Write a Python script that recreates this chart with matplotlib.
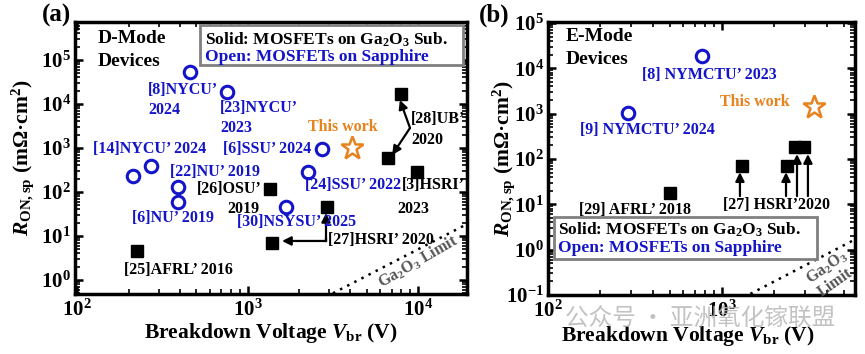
import numpy as np
import matplotlib.pyplot as plt
import matplotlib as mpl
from matplotlib.patches import Rectangle
from matplotlib.ticker import LogLocator, NullFormatter

mpl.rcParams['font.family'] = ['Liberation Serif', 'Noto Sans CJK SC']
mpl.rcParams['font.weight'] = 'bold'
mpl.rcParams['mathtext.fontset'] = 'custom'
mpl.rcParams['mathtext.rm'] = 'Liberation Serif:bold'
mpl.rcParams['mathtext.it'] = 'Liberation Serif:italic:bold'
mpl.rcParams['mathtext.bf'] = 'Liberation Serif:bold'

BLUE = '#1414c8'
ORANGE = '#e8821e'

# (a) D-mode devices
d_open_vbr = [460, 759, 213, 272, 391, 391, 2735, 2265, 1683]
d_open_ron = [5.3e4, 1.87e4, 231, 390, 130, 59, 950, 285, 46]
d_solid_vbr = [225, 1355, 1393, 2925, 7940, 6670, 9860]
d_solid_ron = [4.56, 117, 6.9, 46, 1.69e4, 593, 285]
d_this_vbr = [4100]
d_this_ron = [1000]

# (b) E-mode devices
e_open_vbr = [767, 288]
e_open_ron = [1.87e4, 1030]
e_solid_vbr = [502, 1303, 2365, 2630, 2958]
e_solid_ron = [17.7, 70, 70, 183, 183]
e_this_vbr = [3380]
e_this_ron = [1400]

# Ga2O3 unipolar limit (end points)
limit_vbr = [1000, 20000]
limit_ron = [0.05, 19.8]


def setup_axes(ax, xlim, ylim):
    ax.set_xscale('log')
    ax.set_yscale('log')
    ax.set_xlim(*xlim)
    ax.set_ylim(*ylim)
    for axis in (ax.xaxis, ax.yaxis):
        axis.set_major_locator(LogLocator(base=10, numticks=20))
        axis.set_minor_locator(LogLocator(base=10, subs=np.arange(2, 10), numticks=20))
        axis.set_minor_formatter(NullFormatter())
    ax.tick_params(which='both', direction='in', top=True, right=True, labelsize=15)
    ax.tick_params(which='major', length=6, width=1.8)
    ax.tick_params(which='minor', length=3.5, width=1.2)
    ax.tick_params(axis='x', pad=4)
    ax.tick_params(axis='y', pad=3)
    for spine in ax.spines.values():
        spine.set_linewidth(2.5)


def draw_points(ax, open_v, open_r, solid_v, solid_r, this_v, this_r):
    ax.plot(open_v, open_r, 'o', ms=9, mfc='none', mec=BLUE, mew=2.2, zorder=5)
    ax.plot(solid_v, solid_r, 's', ms=8, color='k', zorder=5)
    ax.plot(this_v, this_r, '*', ms=17, mfc='none', mec=ORANGE, mew=1.8, zorder=5)
    ax.plot(limit_vbr, limit_ron, color='k', lw=1.8, ls=(0, (1, 2.2)), zorder=3)


def legend_box(ax, x0, y0, x1, y1, ty):
    ax.add_patch(Rectangle((x0, y0), x1 - x0, y1 - y0, transform=ax.transAxes,
                           facecolor='white', edgecolor='#808080', lw=2, zorder=8))
    ax.text(x0 + 0.012, ty[0], r'Solid: MOSFETs on Ga$_2$O$_3$ Sub.', transform=ax.transAxes,
            fontsize=12.5, va='center', color='k', zorder=9)
    ax.text(x0 + 0.012, ty[1], 'Open: MOSFETs on Sapphire', transform=ax.transAxes,
            fontsize=12.5, va='center', color=BLUE, zorder=9)


def arrow(ax, start, tip):
    ax.annotate('', xy=tip, xytext=start,
                arrowprops=dict(arrowstyle='-|>', lw=1.6, color='k', mutation_scale=13,
                                shrinkA=0, shrinkB=0), zorder=6)


fig = plt.figure(figsize=(8.65, 3.54), dpi=100)
ax_a = fig.add_axes([0.0867, 0.1695, 0.4532, 0.7684])
ax_b = fig.add_axes([0.6335, 0.1667, 0.3549, 0.7712])

ylabel = r'$R_{\rm ON,sp}$ (mΩ·cm$^2$)'
xlabel = r'Breakdown Voltage $V_{\rm br}$ (V)'

# ---------- panel (a) ----------
ax = ax_a
setup_axes(ax, (97, 19400), (0.48, 7.3e5))
draw_points(ax, d_open_vbr, d_open_ron, d_solid_vbr, d_solid_ron, d_this_vbr, d_this_ron)
fs = 11.5
blue_labels = [
    (261, 2.08e4, '[8]NYCU’'), (261, 7300, '2024'),
    (690, 8110, '[23]NYCU’'), (690, 2850, '2023'),
    (124, 949, '[14]NYCU’ 2024'), (718, 949, '[6]SSU’ 2024'),
    (351, 285, '[22]NU’ 2019'), (2173, 144, '[24]SSU’ 2022'),
    (210, 25.7, '[6]NU’ 2019'), (867, 20.8, '[30]NSYSU’ 2025'),
]
for x, y, s in blue_labels:
    ax.text(x, y, s, color=BLUE, fontsize=fs, va='center', zorder=7)
black_labels = [
    (8050, 144, '[3]HSRI’'), (7530, 41, '2023'),
    (506, 117, '[26]OSU’'), (758, 41, '2019'),
    (2965, 8.1, '[27]HSRI’ 2020'), (189, 1.69, '[25]AFRL’ 2016'),
    (9100, 4560, '[28]UB’'), (9100, 1520, '2020'),
]
for x, y, s in black_labels:
    ax.text(x, y, s, color='k', fontsize=fs, va='center', zorder=7)
ax.text(2265, 3000, 'This work', color=ORANGE, fontsize=fs, va='center')
arrow(ax, (8980, 2850), (7830, 1.23e4))
arrow(ax, (8980, 2850), (7050, 693))
ax.plot([2885, 2885], [7.7, 8.6], color='k', lw=1.6)
arrow(ax, (2885, 7.7), (2885, 33.3))
arrow(ax, (2885, 7.7), (1592, 7.7))
ax.text(1.0e4, 2.57, r'Ga$_2$O$_3$ Limit', color='#555555', fontsize=11.5,
        rotation=30, ha='center', va='center')
ax.text(0.059, 0.941, 'D-Mode', transform=ax.transAxes, fontsize=14, va='center')
ax.text(0.059, 0.853, 'Devices', transform=ax.transAxes, fontsize=14, va='center')
legend_box(ax, 0.319, 0.842, 0.990, 0.989, (0.934, 0.871))
ax.text(-0.133, 0.5, ylabel, rotation=90, transform=ax.transAxes, fontsize=15.5,
        ha='center', va='center')
ax.text(0.5, -0.143, xlabel, transform=ax.transAxes, fontsize=15.5, ha='center', va='center')
fig.text(57 / 865, 1 - 15 / 354, '(a)', fontsize=18, ha='center', va='center')

# ---------- panel (b) ----------
ax = ax_b
setup_axes(ax, (100, 5810), (0.1, 1.05e5))
draw_points(ax, e_open_vbr, e_open_ron, e_solid_vbr, e_solid_ron, e_this_vbr, e_this_ron)
ax.text(347, 7110, '[8] NYMCTU’ 2023', color=BLUE, fontsize=fs, va='center')
ax.text(153, 434, '[9] NYMCTU’ 2024', color=BLUE, fontsize=fs, va='center')
ax.text(975, 1800, 'This work', color=ORANGE, fontsize=fs, va='center')
ax.text(151, 7.45, '[29] AFRL’ 2018', color='k', fontsize=fs, va='center')
ax.text(1014, 9.6, '[27] HSRI’2020', color='k', fontsize=fs, va='center')
for x, tip in [(1268, 51), (2333, 51), (2698, 128), (3118, 128)]:
    arrow(ax, (x, 15.2), (x, tip))
ax.text(4010, 0.41, r'Ga$_2$O$_3$', color='#555555', fontsize=11.5, rotation=35,
        ha='center', va='center')
ax.text(4460, 0.19, 'Limit', color='#555555', fontsize=11.5, rotation=35,
        ha='center', va='center')
ax.text(0.059, 0.945, 'E-Mode', transform=ax.transAxes, fontsize=14, va='center')
ax.text(0.059, 0.861, 'Devices', transform=ax.transAxes, fontsize=14, va='center')
legend_box(ax, 0.020, 0.132, 0.876, 0.286, (0.238, 0.172))
ax.text(-0.145, 0.5, ylabel, rotation=90, transform=ax.transAxes, fontsize=15.5,
        ha='center', va='center')
ax.text(0.456, -0.150, xlabel, transform=ax.transAxes, fontsize=15.5, ha='center', va='center')
fig.text(494 / 865, 1 - 15 / 354, '(b)', fontsize=18, ha='center', va='center')

# watermark text
fig.text(565 / 865, 1 - 318 / 354, '公众号 · 亚洲氧化镓联盟', fontsize=17,
         family=['Noto Sans CJK SC'], fontweight='normal', color='#b8b8b8',
         alpha=0.85, va='center', zorder=10)

fig.savefig('out.png', dpi=100)
